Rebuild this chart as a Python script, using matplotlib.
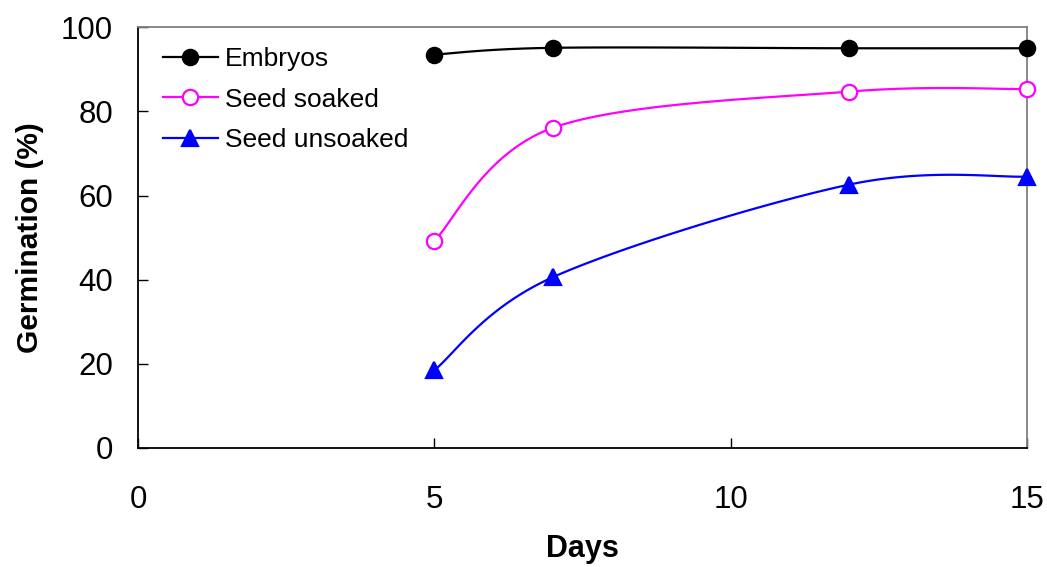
import numpy as np
from matplotlib import pyplot as plt

days = [5, 7, 12, 15]
embryos = [93.5, 95.1, 95.0, 95.0]
seed_soaked = [49.3, 76.1, 84.7, 85.3]
seed_unsoaked = [18.5, 40.6, 62.6, 64.5]

plt.rcParams['font.family'] = ['Liberation Sans', 'DejaVu Sans']


def smooth(x, y, n=40):
    # cubic Bezier through the points, control points from neighbours (spreadsheet-style smoothing)
    p = np.column_stack([x, y]).astype(float)
    ext = np.vstack([p[0], p, p[-1]])
    out = []
    for i in range(len(p) - 1):
        p0, p1, p2, p3 = ext[i], ext[i + 1], ext[i + 2], ext[i + 3]
        c1 = p1 + (p2 - p0) / 6.0
        c2 = p2 - (p3 - p1) / 6.0
        t = np.linspace(0, 1, n)[:, None]
        seg = ((1 - t) ** 3) * p1 + 3 * ((1 - t) ** 2) * t * c1 + 3 * (1 - t) * t ** 2 * c2 + t ** 3 * p2
        out.append(seg if i == 0 else seg[1:])
    out = np.vstack(out)
    return out[:, 0], out[:, 1]


fig = plt.figure(figsize=(10.47, 5.67), dpi=100)
ax = fig.add_axes([0.1318, 0.2099, 0.981 - 0.1318, 0.952 - 0.2099])

series = [
    ("Embryos", embryos, dict(color="black", marker="o", mfc="black")),
    ("Seed soaked", seed_soaked, dict(color="#ff00ff", marker="o", mfc="white")),
    ("Seed unsoaked", seed_unsoaked, dict(color="#0000ff", marker="^", mfc="#0000ff")),
]
handles = []
for name, vals, st in series:
    sx, sy = smooth(days, vals)
    ax.plot(sx, sy, color=st["color"], lw=1.6, zorder=2)
    ax.plot(days, vals, ls="none", marker=st["marker"], ms=11, mfc=st["mfc"],
            mec=st["color"], mew=1.6, zorder=3, clip_on=False)
    h, = ax.plot([], [], color=st["color"], lw=1.6, marker=st["marker"], ms=11,
                 mfc=st["mfc"], mec=st["color"], mew=1.6)
    handles.append((h, name))

ax.set_xlim(0, 15)
ax.set_ylim(0, 100)
ax.set_xticks([0, 5, 10, 15])
ax.set_yticks(range(0, 101, 20))
ax.tick_params(direction="in", length=7, width=1, labelsize=22.5)
ax.tick_params(axis="x", pad=27)
ax.tick_params(axis="y", pad=18)

for s in ["top", "right"]:
    ax.spines[s].set_color("#808080")
for s in ["left", "bottom"]:
    ax.spines[s].set_color("black")
for s in ax.spines.values():
    s.set_linewidth(1.3)

ax.set_xlabel("Days", fontsize=22, fontweight="bold", labelpad=13)
ax.set_ylabel("Germination (%)", fontsize=21.5, fontweight="bold", labelpad=12)

ax.legend([h for h, _ in handles], [n for _, n in handles], loc="upper left",
          frameon=False, fontsize=19, handlelength=2.1, handletextpad=0.27,
          labelspacing=0.62, bbox_to_anchor=(0.01, 0.99), borderaxespad=0.2)

fig.savefig("out.png", dpi=100)
